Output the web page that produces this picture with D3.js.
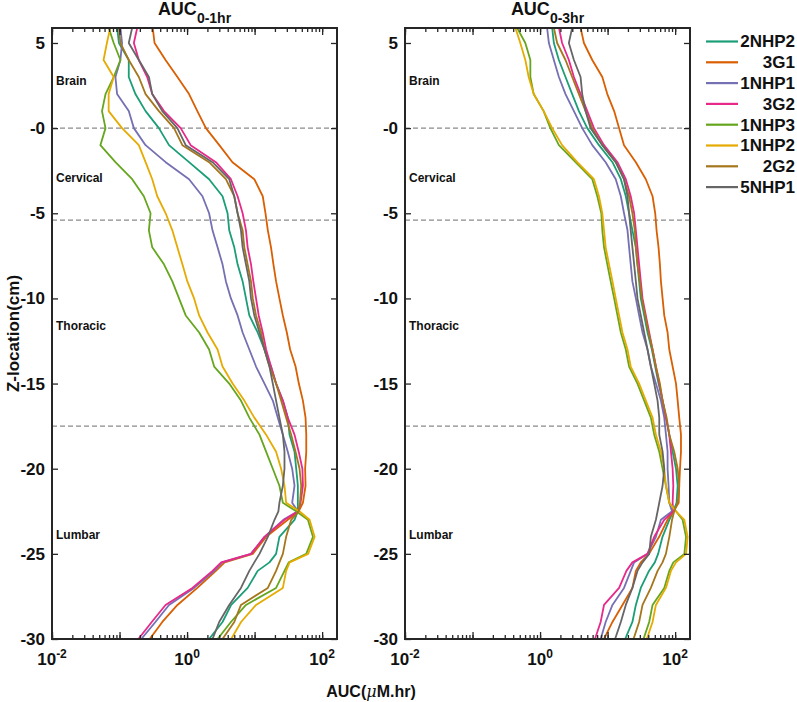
<!DOCTYPE html>
<html>
<head>
<meta charset="utf-8">
<script src="https://cdn.jsdelivr.net/npm/d3@7"></script>
<style>
  body { margin: 0; background: #fff; }
  svg { font-family: 'Liberation Sans', Arial, sans-serif; font-weight: bold; }
</style>
</head>
<body>
<svg id="chart" width="797" height="702"></svg>
<script>

const zLoc = [5.9, 5, 4, 3, 2, 1, 0, -1, -2, -3, -4, -5, -6, -7, -8, -9, -10, -11, -12, -13, -14, -15,
              -16, -17, -18, -19, -20, -21, -22, -22.5, -23, -24, -25, -25.5, -26, -27, -28, -29, -30]

const seriesNames = ['2NHP2', '3G1', '1NHP1', '3G2', '1NHP3', '1NHP2', '2G2', '5NHP1']
// Dark2 from colorbrewer
const seriesColors = ['#1b9e77', '#d95f02', '#7570b3', '#e7298a', '#66a61e', '#e6ab02', '#a6761d', '#666666']

const regionNames = ['Brain', 'Cervical', 'Thoracic', 'Lumbar']
const regionLabelZ = [2.8, -2.9, -11.6, -23.9]
const boundaryZ = [0, -5.4, -17.5]
const yTicks = [-30, -25, -20, -15, -10, -5, 0, 5]
const xLabelTicks = [0.01, 1, 100]

// AUC 0-1hr (uM.hr)
const auc1_2NHP2 = [0.092, 0.098, 0.137, 0.137, 0.172, 0.243, 0.383, 0.54, 1.07, 2.12, 3.35, 3.98, 4.21,
  5.0, 5.6, 6.65, 7.45, 8.35, 11.1, 14, 17.5, 20.8, 26.2, 31, 32.9,
  39, 41.3, 43.7, 43.7, 43.7, 39, 23.3, 20.8, 16.6, 11.1, 7.9, 4.5, 3.35, 2.12]
const auc1_3G1 = [0.31, 0.33, 0.48, 0.72, 1.07, 1.42, 1.9, 3.0, 4.7, 9.9, 13.2, 14.5, 15.7,
  17.5, 19, 20.8, 23.3, 26.2, 30, 33.6, 40.4, 45.2, 51.9, 56.8, 58.2,
  58.2, 56, 56.8, 51.9, 45, 31, 14.8, 9.4, 3.6, 2.67, 1.42, 0.72, 0.43, 0.28]
const auc1_1NHP1 = [0.103, 0.109, 0.103, 0.087, 0.092, 0.137, 0.163, 0.243, 0.482, 1.07, 1.69, 2.12, 2.38,
  2.83, 3.35, 3.76, 4.46, 5.6, 6.65, 8.35, 10.5, 14, 18.6, 22, 26.2,
  31, 36, 39, 36, 43.7, 26.6, 14, 8.85, 3.3, 2.52, 1.27, 0.54, 0.34, 0.21]
const auc1_3G2 = [0.183, 0.163, 0.193, 0.257, 0.305, 0.455, 0.805, 1.13, 2.67, 4.46, 5.6, 6.65, 7.45,
  7.89, 8.85, 9.58, 10.5, 11.5, 13.2, 14.8, 17.5, 20.8, 26.2, 31, 39,
  45, 51, 52, 48, 44, 27.7, 14, 8.85, 3.2, 2.38, 1.2, 0.48, 0.3, 0.19]
const auc1_1NHP3 = [0.069, 0.082, 0.103, 0.082, 0.062, 0.055, 0.062, 0.052, 0.087, 0.154, 0.229, 0.288, 0.272,
  0.305, 0.455, 0.605, 0.76, 0.955, 1.51, 2.12, 2.52, 4.21, 6.28, 8.35, 11.8,
  14.8, 18.6, 23.3, 26.2, 41.3, 61.6, 73.1, 58.2, 32, 27.7, 20.8, 7.45, 4.46, 2.83]
const auc1_1NHP2 = [0.073, 0.065, 0.058, 0.082, 0.069, 0.069, 0.109, 0.193, 0.243, 0.305, 0.362, 0.482, 0.605,
  0.718, 0.853, 1.01, 1.27, 1.51, 2.01, 2.83, 3.35, 4.72, 7.04, 9.9, 14.8,
  20.8, 24.7, 27.7, 29.3, 46, 65.2, 77.3, 62, 33, 29.3, 26.2, 10.5, 6.3, 4.5]
const auc1_2G2 = [0.098, 0.103, 0.137, 0.193, 0.243, 0.383, 0.641, 0.853, 2.12, 3.76, 5.0, 5.6, 6.65,
  7.04, 7.89, 8.85, 9.4, 10.5, 12.5, 14, 16.6, 20.8, 24.7, 29.3, 34.8,
  40.4, 46.3, 49, 47, 45, 34.8, 29.3, 26.2, 23.3, 20.8, 15.7, 6.28, 5.0, 3.35]
const auc1_5NHP1 = [0.154, 0.137, 0.193, 0.272, 0.305, 0.43, 0.718, 0.955, 2.38, 4.21, 5.0, 5.6, 6.28,
  6.65, 7.45, 8.35, 8.85, 9.9, 11.8, 14, 16.6, 18.6, 20.8, 23.3, 26.2,
  27.7, 27.7, 26.2, 23.3, 22.5, 19.7, 15.7, 11.8, 9.9, 8.35, 6.28, 4.21, 2.99, 2.38]

// AUC 0-3hr (uM.hr)
const auc3_2NHP2 = [1.51, 1.6, 1.9, 2.38, 2.99, 3.76, 5.0, 7.45, 11.8, 15.7, 18.6, 20.8, 23.3,
  26.2, 27.7, 29.3, 31, 34.8, 39, 45.2, 50.7, 56.8, 65.2, 73.1, 81.9,
  91.8, 103, 109, 105, 94, 82, 65, 56, 50, 41, 31, 26.2, 23.3, 18.2]
const auc3_3G1 = [3.98, 4.46, 5.93, 8.35, 9.9, 12.5, 14.8, 17.5, 26.2, 36.8, 46.3, 50.7, 53.1,
  56.8, 59.5, 61.6, 65.2, 69, 77.3, 81.9, 91.8, 103, 109, 115, 122,
  122, 118, 115, 113, 94, 77, 58, 41, 31, 26.2, 23.3, 16.6, 11.8, 8.85]
const auc3_1NHP1 = [1.27, 1.35, 1.6, 1.9, 2.38, 3.17, 4.21, 5.93, 9.36, 13.2, 15.7, 17.5, 19.7,
  20.8, 22, 23.3, 26.2, 29.3, 32.9, 39, 43.7, 51.9, 61.6, 69, 73.1,
  77.3, 77.3, 80, 81.9, 90, 61.6, 51.9, 39, 24.7, 22, 17.5, 11.8, 9.36, 7.9]
const auc3_3G2 = [1.9, 2.12, 2.67, 3.17, 3.98, 5.0, 6.28, 8.85, 14, 18.6, 22, 24.7, 26.2,
  27.7, 29.3, 31, 32.9, 36.8, 41.3, 46.3, 51.9, 58.2, 65.2, 73.1, 81.9,
  86.7, 91.8, 93.9, 91.8, 94, 69, 49, 39, 23.3, 19, 14.8, 8.85, 7.89, 6.5]
const auc3_1NHP3 = [0.455, 0.605, 0.718, 0.718, 0.805, 1.13, 1.42, 1.9, 3.35, 5.93, 7.04, 8.07, 8.35,
  8.85, 9.91, 11.1, 12.5, 14, 15.7, 18.6, 20.8, 27.7, 34.8, 43.7, 49,
  58.2, 65.2, 73.1, 81.9, 103, 129, 145, 137, 94, 81.9, 69, 46.3, 41.3, 34]
const auc3_1NHP2 = [0.43, 0.51, 0.605, 0.678, 0.805, 1.13, 1.51, 2.12, 3.55, 6.28, 7.45, 8.35, 8.85,
  9.36, 10.5, 11.8, 13.2, 14.8, 16.6, 19.7, 22, 29.3, 36.8, 46.3, 51.9,
  61.6, 69, 73.1, 81.9, 103, 137, 153, 145, 103, 86.7, 73.1, 51.9, 46.3, 38.1]
const auc3_2G2 = [1.6, 1.79, 2.38, 2.99, 3.76, 4.72, 5.93, 8.35, 13.2, 17.5, 20.8, 23.3, 25.3,
  26.2, 27.7, 30, 32.1, 36, 40.4, 46.3, 51.9, 59.5, 65.2, 74.8, 81.9,
  97, 109, 115, 109, 97, 90, 82, 73, 65, 55, 43.7, 32.9, 29.3, 24.2]
const auc3_5NHP1 = [2.99, 2.67, 3.17, 3.98, 4.21, 4.72, 5.6, 8.35, 13.2, 17.5, 19.7, 20.8, 22,
  23.3, 24.7, 26.2, 27.7, 31, 34.8, 39, 43.7, 49, 54.9, 58.2, 58.2,
  65.2, 69, 65.2, 58.2, 55, 51.9, 43.7, 41.3, 32.9, 27.7, 23.3, 18.6, 15.7, 12.9]

const panels = [
  { sub: '0-1hr', left: 52, values: [auc1_2NHP2, auc1_3G1, auc1_1NHP1, auc1_3G2, auc1_1NHP3, auc1_1NHP2, auc1_2G2, auc1_5NHP1] },
  { sub: '0-3hr', left: 405, values: [auc3_2NHP2, auc3_3G1, auc3_1NHP1, auc3_3G2, auc3_1NHP3, auc3_1NHP2, auc3_2G2, auc3_5NHP1] }
]

const width = 285,
      height = 611,
      marginTop = 28

const axisColor = '#262626'

const x = d3.scaleLog().domain([0.01, 166]).range([0, width])
const y = d3.scaleLinear().domain([-30, 5.88]).range([height, 0])

const allTicks = x.ticks()
const majorTicks = allTicks.filter(d => Math.abs(Math.log10(d) - Math.round(Math.log10(d))) < 1e-9)

const line = d3.line()
  .x(d => x(d[1]))
  .y(d => y(d[0]))

const svg = d3.select('#chart')

svg.append('defs').append('clipPath').attr('id', 'plot-clip')
  .append('rect')
  .attr('width', width)
  .attr('height', height)

const styleAxis = g => {
  g.select('.domain').remove()
  g.attr('font-size', null).attr('font-family', null)
  g.selectAll('.tick line').attr('stroke', axisColor).attr('stroke-width', 1.3)
}

panels.forEach(p => {
  const g = svg.append('g')
    .attr('transform', 'translate(' + p.left + ', ' + marginTop + ')')

  // region boundaries
  g.selectAll('line.boundary')
    .data(boundaryZ).enter()
    .append('line').classed('boundary', true)
    .attr('x1', 0)
    .attr('x2', width)
    .attr('y1', d => y(d))
    .attr('y2', d => y(d))
    .attr('stroke', '#8a8a8a')
    .attr('stroke-width', 1.1)
    .attr('stroke-dasharray', '5,3')

  g.selectAll('text.region')
    .data(regionNames).enter()
    .append('text').classed('region', true)
    .attr('x', 4)
    .attr('y', (d, i) => y(regionLabelZ[i]))
    .attr('dy', '0.35em')
    .attr('font-size', 12)
    .attr('fill', '#111')
    .text(d => d)

  g.append('g').attr('clip-path', 'url(#plot-clip)')
    .selectAll('path')
    .data(p.values).enter()
    .append('path')
    .attr('d', vals => line(d3.zip(zLoc, vals)))
    .attr('fill', 'none')
    .attr('stroke', (d, i) => seriesColors[i])
    .attr('stroke-width', 1.8)
    .attr('stroke-linejoin', 'round')

  // ticks, all pointing inward
  g.append('g')
    .attr('transform', 'translate(0, ' + height + ')')
    .call(d3.axisBottom(x).tickValues(allTicks).tickSize(-4).tickFormat(''))
    .call(styleAxis)
  g.append('g')
    .attr('transform', 'translate(0, ' + height + ')')
    .call(d3.axisBottom(x).tickValues(majorTicks).tickSize(-7).tickFormat(''))
    .call(styleAxis)
  g.append('g')
    .call(d3.axisTop(x).tickValues(allTicks).tickSize(-4).tickFormat(''))
    .call(styleAxis)
  g.append('g')
    .call(d3.axisTop(x).tickValues(majorTicks).tickSize(-7).tickFormat(''))
    .call(styleAxis)

  g.append('g')
    .call(d3.axisLeft(y).tickValues(yTicks).tickSize(-6).tickPadding(7)
      .tickFormat(d => d === 0 ? '-0' : String(d)))
    .call(styleAxis)
    .selectAll('text')
    .attr('font-size', 17)
    .attr('fill', '#111')
  g.append('g')
    .attr('transform', 'translate(' + width + ', 0)')
    .call(d3.axisRight(y).tickValues(yTicks).tickSize(-6).tickFormat(''))
    .call(styleAxis)

  const xl = g.selectAll('text.xlabel')
    .data(xLabelTicks).enter()
    .append('text').classed('xlabel', true)
    .attr('x', d => x(d))
    .attr('y', height + 26)
    .attr('text-anchor', 'middle')
    .attr('fill', '#111')
  xl.append('tspan')
    .attr('font-size', 17)
    .text('10')
  xl.append('tspan')
    .attr('font-size', 12)
    .attr('dy', -7)
    .text(d => Math.round(Math.log10(d)))

  g.append('rect')
    .attr('width', width)
    .attr('height', height)
    .attr('fill', 'none')
    .attr('stroke', axisColor)
    .attr('stroke-width', 2)

  const title = g.append('text')
    .attr('x', width / 2)
    .attr('y', -13)
    .attr('text-anchor', 'middle')
    .attr('fill', '#111')
  title.append('tspan')
    .attr('font-size', 18)
    .text('AUC')
  title.append('tspan')
    .attr('font-size', 14)
    .attr('dy', 8)
    .text(p.sub)
})

svg.append('text')
  .attr('transform', 'translate(13, ' + (marginTop + height / 2) + ') rotate(-90)')
  .attr('text-anchor', 'middle')
  .attr('dy', '0.35em')
  .attr('font-size', 17)
  .attr('fill', '#111')
  .text('Z-location(cm)')

const xTitle = svg.append('text')
  .attr('x', (52 + 405 + width) / 2)
  .attr('y', 697)
  .attr('text-anchor', 'middle')
  .attr('font-size', 16)
  .attr('fill', '#111')
xTitle.append('tspan').text('AUC(')
xTitle.append('tspan').attr('font-style', 'italic').attr('font-weight', 'normal').attr('font-family', "'DejaVu Serif', serif").text('μ')
xTitle.append('tspan').text('M.hr)')

const legend = svg.append('g').classed('legend', true)
  .selectAll('g')
  .data(seriesNames).enter()
  .append('g')
  .attr('transform', (d, i) => 'translate(0, ' + (41.5 + i * 20.8) + ')')
legend.append('line')
  .attr('x1', 706)
  .attr('x2', 738)
  .attr('stroke', (d, i) => seriesColors[i])
  .attr('stroke-width', 2.2)
legend.append('text')
  .attr('x', 795)
  .attr('dy', '0.35em')
  .attr('text-anchor', 'end')
  .attr('font-size', 17)
  .attr('fill', '#111')
  .text(d => d)

</script>
</body>
</html>
